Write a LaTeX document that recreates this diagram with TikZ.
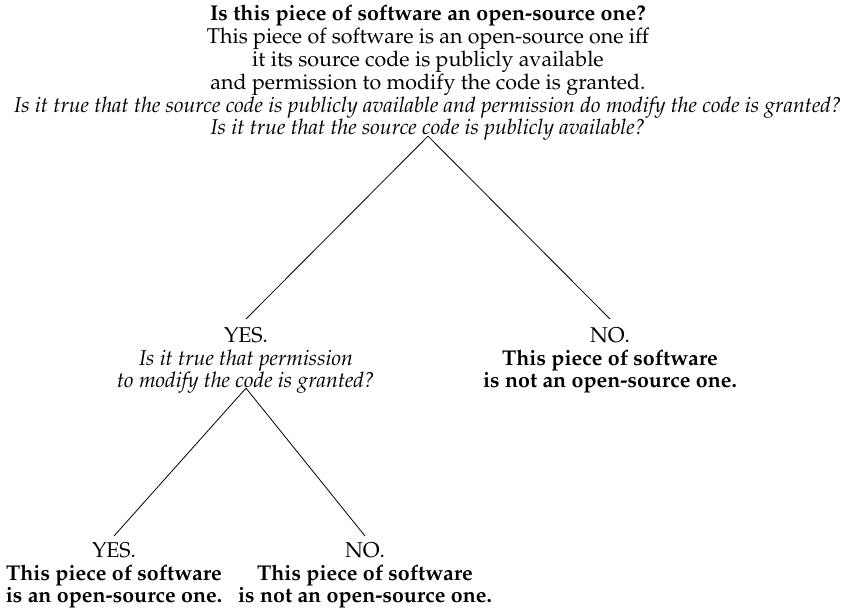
\documentclass[tikz,border=0pt]{standalone}
\usepackage[T1]{fontenc}
\usepackage{mathpazo}

\begin{document}
\begin{tikzpicture}[every node/.style={align=center, inner sep=1pt, font=\fontsize{10.7}{11.4}\selectfont}]
				\useasboundingbox (0,0) rectangle (428.5pt,-306.5pt);
				\node[anchor=north] (root) at (214pt,-1.5pt) {\textbf{Is this piece of software an open-source one?}\\
					This piece of software is an open-source one iff\\
					it its source code is publicly available\\
					and permission to modify the code is granted.\\
					\textit{Is it true that the source code is publicly available and permission do modify the code is granted?}\\
					\textit{Is it true that the source code is publicly available?}};
				\node[anchor=north] (yes1) at (123pt,-162.5pt) {YES.\\ \textit{Is it true that permission}\\ \textit{to modify the code is granted?}};
				\node[anchor=north] (no1) at (305pt,-162.5pt) {NO.\\ \textbf{This piece of software}\\ \textbf{is not an open-source one.}};
				\node[anchor=north] (yes2) at (57pt,-270pt) {YES.\\ \textbf{This piece of software}\\ \textbf{is an open-source one.}};
				\node[anchor=north] (no2) at (182.5pt,-270pt) {NO.\\ \textbf{This piece of software}\\ \textbf{is not an open-source one.}};
				\draw ([yshift=3.5pt]root.south) -- ([yshift=3pt]yes1.north);
				\draw ([yshift=3.5pt]root.south) -- ([yshift=3pt]no1.north);
				\draw ([yshift=4pt]yes1.south) -- ([yshift=2pt]yes2.north);
				\draw ([yshift=4pt]yes1.south) -- ([yshift=2pt]no2.north);
			\end{tikzpicture}
\end{document}
